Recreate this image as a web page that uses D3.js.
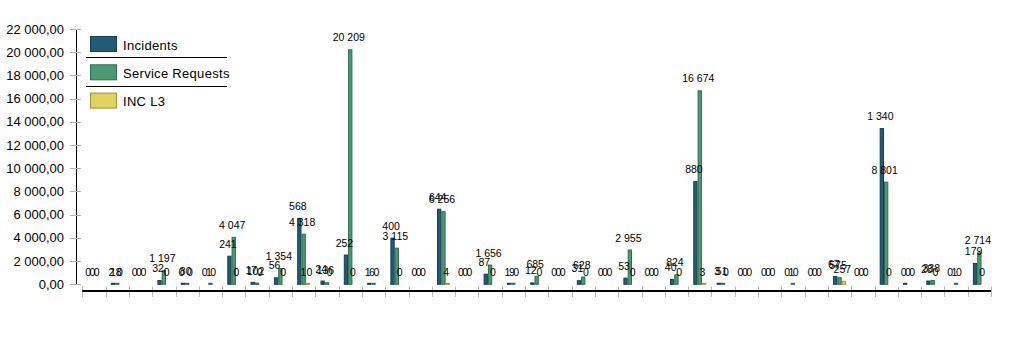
<!DOCTYPE html>
<html>
<head>
<meta charset="utf-8">
<script src="https://cdn.jsdelivr.net/npm/d3@7"></script>
<style>
  html, body { margin: 0; padding: 0; background: #ffffff; }
  svg { display: block; }
  text { font-family: "Liberation Sans", Arial, sans-serif; fill: #000; }
</style>
</head>
<body>
<svg id="chart" width="1018" height="358"></svg>
<script>
// ---- data ----
const categories = ["c01","c02","c03","c04","c05","c06","c07","c08","c09","c10",
                    "c11","c12","c13","c14","c15","c16","c17","c18","c19","c20",
                    "c21","c22","c23","c24","c25","c26","c27","c28","c29","c30",
                    "c31","c32","c33","c34","c35","c36","c37","c38","c39"];
const seriesNames = ["Incidents", "Service Requests", "INC L3"];

const incidents = [0, 20, 0, 320, 5, 0, 2420, 170, 560, 5680,
                   280, 2520, 10, 3980, 0, 6470, 0, 870, 10, 120,
                   0, 310, 0, 530, 0, 420, 8850, 30, 0, 0,
                   0, 0, 670, 0, 13420, 5, 280, 0, 1790];
const incidentLabels = ["0","2","0","32","0","0","241","17","56","568",
                        "24","252","1","400","0","644","0","87","1","12",
                        "0","31","0","53","0","40","880","3","0","0",
                        "0","0","67","0","1 340","0","28","0","179"];
const serviceRequests = [0, 18, 0, 1197, 80, 1, 4047, 102, 1354, 4318,
                         136, 20209, 6, 3115, 0, 6256, 0, 1656, 9, 685,
                         0, 628, 0, 2955, 0, 824, 16674, 51, 0, 0,
                         1, 0, 575, 0, 8801, 0, 338, 1, 2714];
const incL3 = [0, 0, 0, 0, 0, 0, 0, 0, 0, 10,
               0, 0, 0, 0, 0, 4, 0, 0, 0, 0,
               0, 0, 0, 0, 0, 0, 3, 0, 0, 0,
               0, 0, 257, 0, 0, 0, 0, 0, 0];
const yTicks = [0, 2000, 4000, 6000, 8000, 10000, 12000, 14000, 16000, 18000, 20000, 22000];

// ---- formatting ----
const loc = d3.formatLocale({decimal: ",", thousands: " ", grouping: [3], currency: ["", ""]});
const fmtInt = loc.format(",d");
const fmtAxis = loc.format(",.2f");

const colors = {
  "Incidents": {fill: "#245b74", stroke: "#153e52"},
  "Service Requests": {fill: "#4c9a73", stroke: "#2e6c4f"},
  "INC L3": {fill: "#e0d260", stroke: "#a39132"}
};

const svg = d3.select("#chart");

const x0 = d3.scaleBand().domain(categories).range([82.3, 991]).padding(0);
const x1 = d3.scaleBand().domain(seriesNames).range([5.2, 18.1]).padding(0);
const y = d3.scaleLinear().domain([0, 22000]).range([284.3, 29]);

// y axis
const yAxis = svg.append("g");
yAxis.append("line").attr("x1", 76.5).attr("x2", 76.5).attr("y1", y(22000)).attr("y2", y(0))
  .attr("stroke", "#000").attr("stroke-width", 1);
yAxis.selectAll("line.tick").data(yTicks).enter().append("line")
  .attr("class", "tick")
  .attr("x1", 70).attr("x2", 81)
  .attr("y1", d => Math.round(y(d)) + 0.5).attr("y2", d => Math.round(y(d)) + 0.5)
  .attr("stroke", "#b0b0b0").attr("stroke-width", 1);
yAxis.selectAll("text").data(yTicks).enter().append("text")
  .attr("x", 64).attr("y", d => y(d) + 4.6)
  .attr("text-anchor", "end")
  .attr("font-size", "13px")
  .text(d => fmtAxis(d));

// x axis
const xAxis = svg.append("g");
const xTickPos = categories.map(c => x0(c)).concat([x0.range()[1]]);
xAxis.selectAll("line.tick").data(xTickPos).enter().append("line")
  .attr("x1", d => Math.round(d) + 0.5).attr("x2", d => Math.round(d) + 0.5)
  .attr("y1", 286.5).attr("y2", 297)
  .attr("stroke", "#b8b8b8").attr("stroke-width", 1);
xAxis.append("line").attr("x1", x0.range()[0]).attr("x2", x0.range()[1])
  .attr("y1", 291).attr("y2", 291)
  .attr("stroke", "#000").attr("stroke-width", 2);

// bars
const rows = categories.map((c, i) => ({
  cat: c,
  vals: [
    {s: "Incidents", v: incidents[i], label: incidentLabels[i]},
    {s: "Service Requests", v: serviceRequests[i], label: fmtInt(serviceRequests[i])},
    {s: "INC L3", v: incL3[i], label: fmtInt(incL3[i])}
  ]
}));

const groups = svg.append("g").selectAll("g").data(rows).enter().append("g")
  .attr("transform", d => `translate(${x0(d.cat)},0)`);

groups.selectAll("rect").data(d => d.vals.filter(v => v.v > 0)).enter().append("rect")
  .attr("x", d => x1(d.s) + 0.5)
  .attr("width", x1.bandwidth() - 1)
  .attr("y", d => Math.min(y(d.v), y(0) - 1))
  .attr("height", d => Math.max(1, y(0) - y(d.v)))
  .attr("fill", d => colors[d.s].fill)
  .attr("stroke", d => colors[d.s].stroke)
  .attr("stroke-width", 1);

groups.selectAll("text").data(d => d.vals).enter().append("text")
  .attr("x", d => x1(d.s) + x1.bandwidth() / 2 - 1.5)
  .attr("y", d => y(d.v) - 8.5)
  .attr("text-anchor", "middle")
  .attr("font-size", "10.5px")
  .text(d => d.label);

// legend
const legend = svg.append("g");
seriesNames.forEach((s, i) => {
  const top = 36 + i * 28.3;
  legend.append("rect").attr("x", 90.5).attr("y", top + 0.5).attr("width", 26).attr("height", 15)
    .attr("fill", colors[s].fill).attr("stroke", colors[s].stroke).attr("stroke-width", 1);
  legend.append("text").attr("x", 123).attr("y", top + 13.5)
    .attr("font-size", "13px").attr("letter-spacing", "0.3px").text(s);
  if (i < seriesNames.length - 1) {
    legend.append("line").attr("x1", 86).attr("x2", 227)
      .attr("y1", Math.round(top + 21.3) + 0.5).attr("y2", Math.round(top + 21.3) + 0.5)
      .attr("stroke", "#000").attr("stroke-width", 1);
  }
});
</script>
</body>
</html>
